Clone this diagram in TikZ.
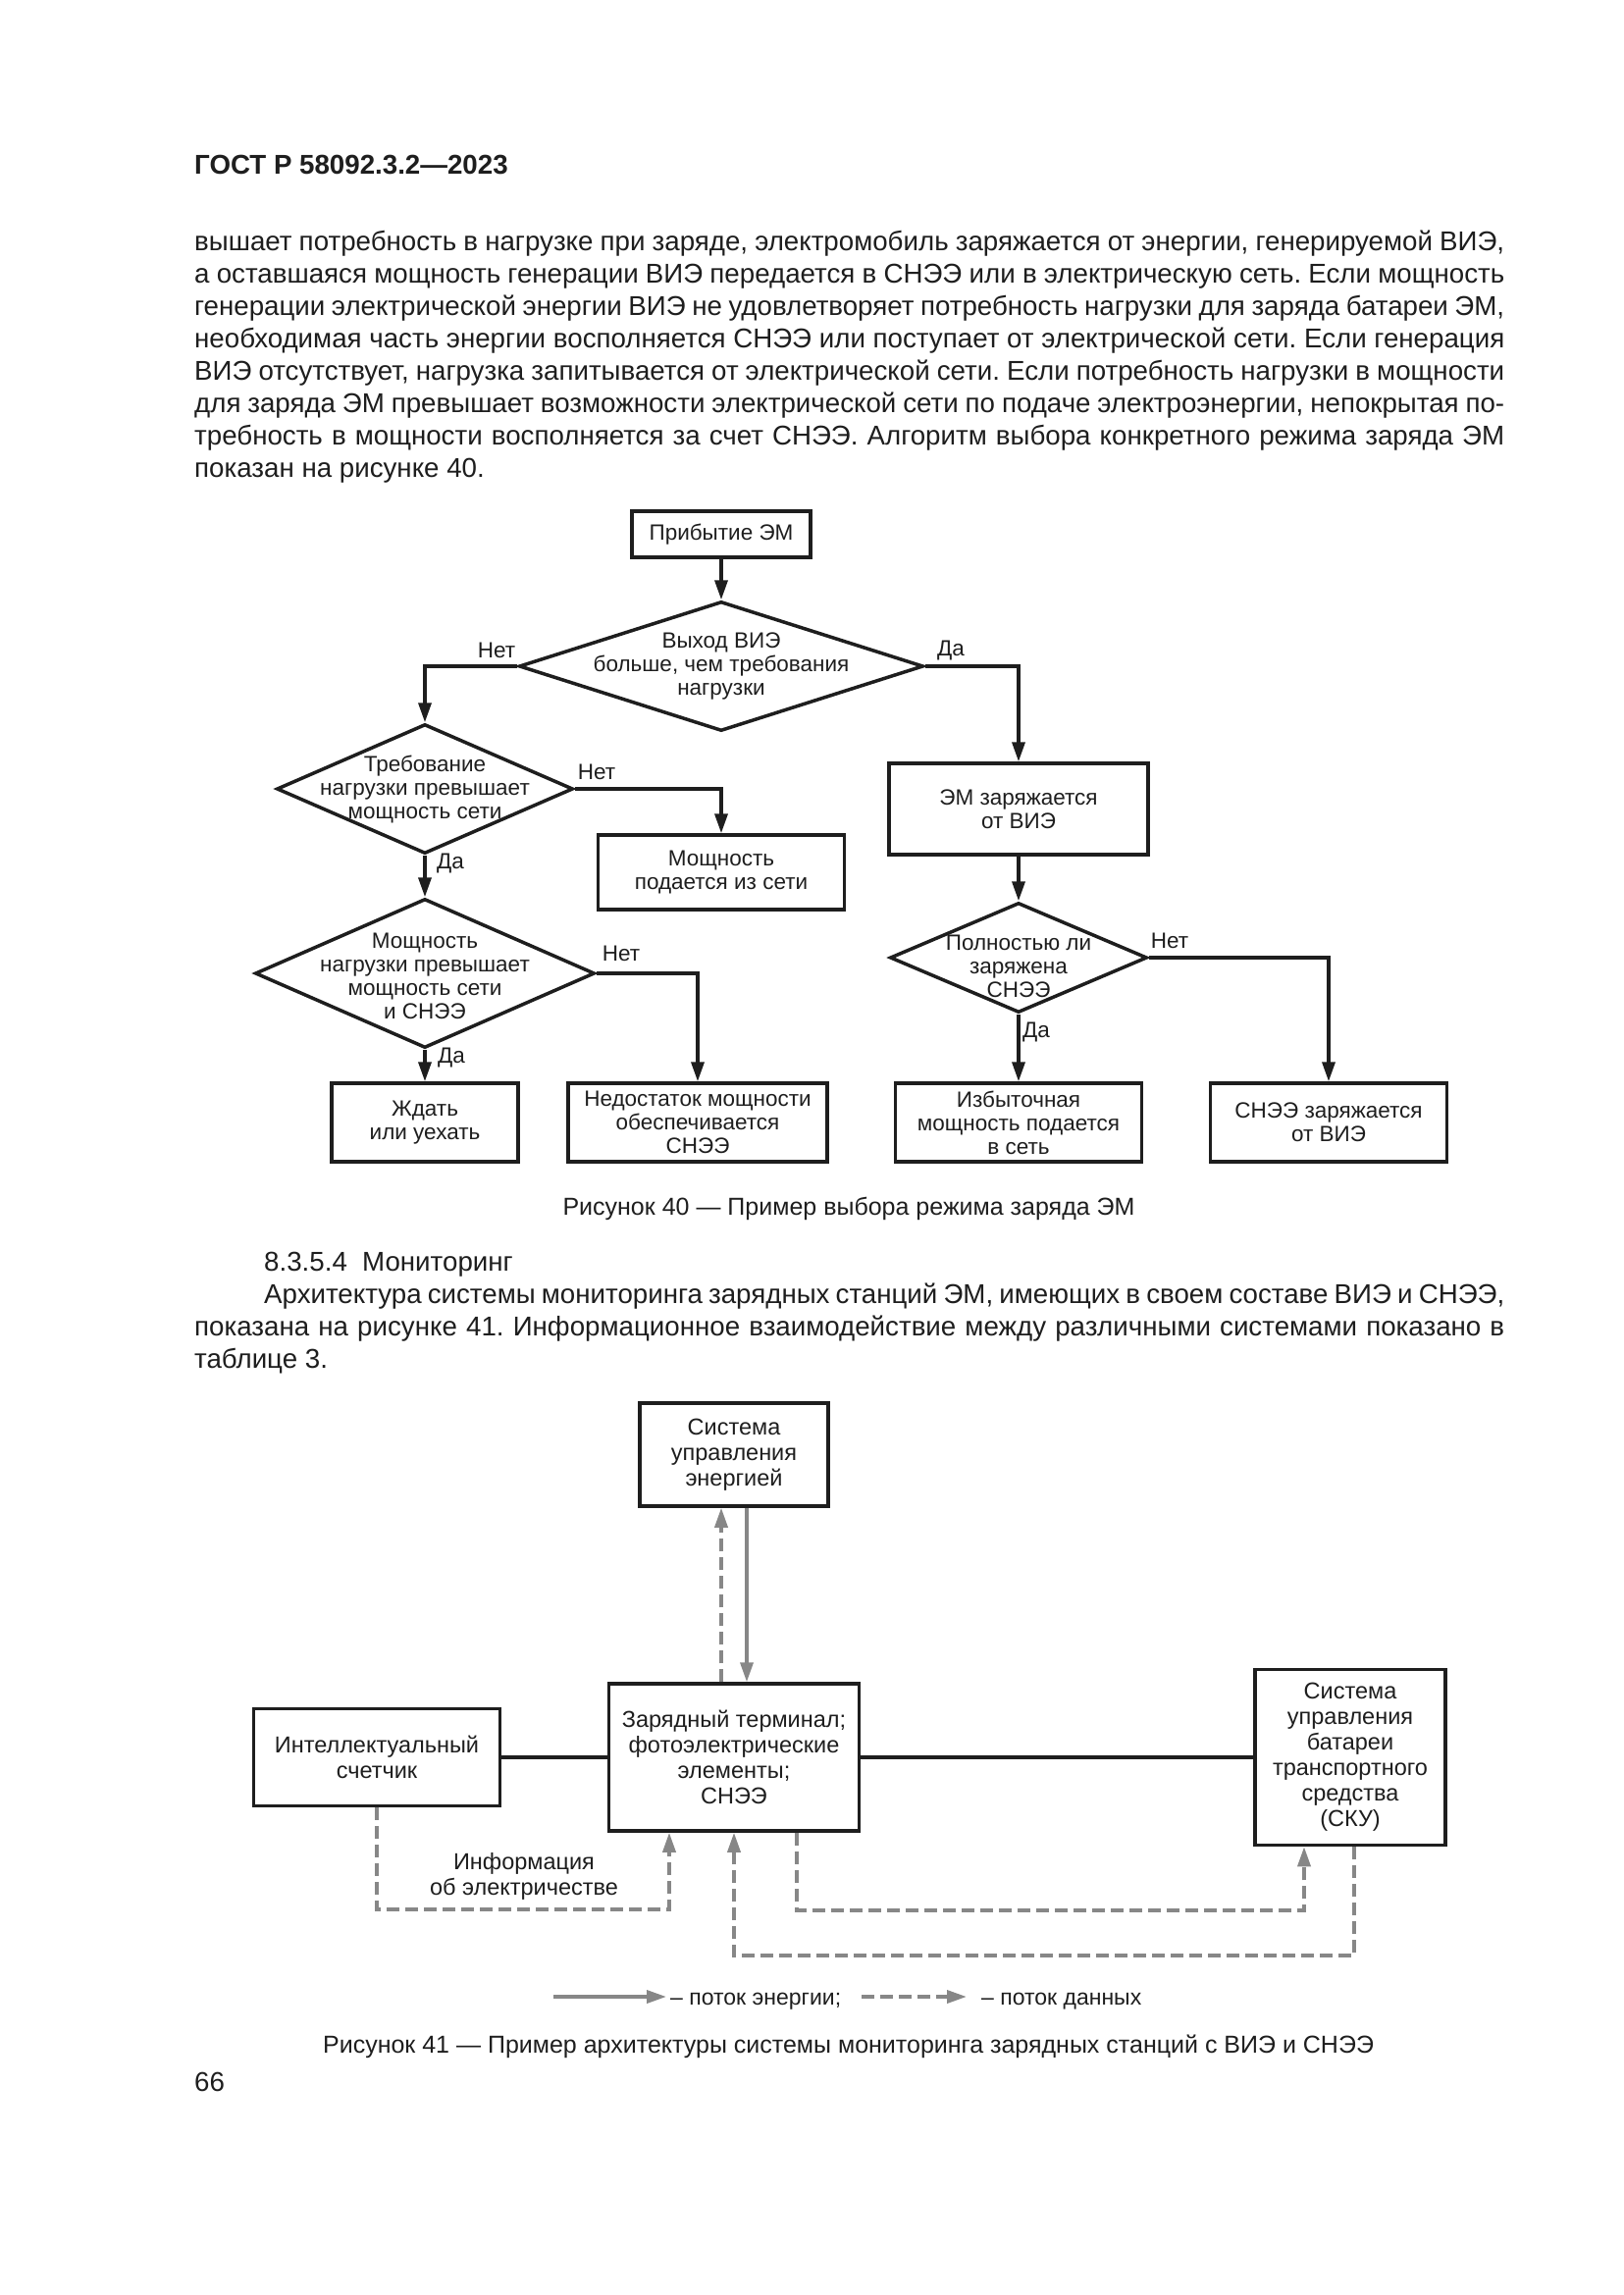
\documentclass[tikz,border=0pt]{standalone}
\usepackage{fontspec}
\setmainfont{Liberation Sans}
\usetikzlibrary{arrows.meta,shapes.geometric}
\definecolor{flowgray}{RGB}{135,135,135}
\definecolor{inkblack}{RGB}{30,30,30}
\newcommand{\bodyfont}{\fontsize{27.7}{33}\selectfont}
\newcommand{\figfont}{\fontsize{22.5}{24}\selectfont}
\newcommand{\figfontb}{\fontsize{23.5}{26}\selectfont}
\newcommand{\capfont}{\fontsize{25}{30}\selectfont}
\newcommand{\legfont}{\fontsize{23}{26}\selectfont}
\newcommand{\jl}[1]{\hbox to 1335pt{#1}}
\frenchspacing
\begin{document}
\begin{tikzpicture}[x=1pt,y=-1pt,
 every node/.style={inner sep=0pt, text=inkblack},
 txt/.style={anchor=base west, font=\bodyfont},
 box/.style={draw=inkblack, line width=3.5pt, align=center, font=\figfont},
 dia/.style={draw=inkblack, diamond, line width=3.5pt, inner sep=0pt},
 dlab/.style={font=\figfont, align=center},
 yn/.style={font=\figfont},
 flow/.style={draw=inkblack, line width=3.5pt, -{Triangle[length=20pt,width=13pt]}},
 box2/.style={draw=inkblack, line width=3.5pt, align=center, font=\figfontb},
 link/.style={draw=inkblack, line width=3.5pt},
 energy/.style={line width=3.5pt, draw=flowgray, -{Triangle[length=20pt,width=13pt]}},
 data/.style={line width=3.5pt, draw=flowgray, dash pattern=on 13pt off 6pt},
 dataarr/.style={data, -{Triangle[length=20pt,width=13pt]}}
]
\fill[white] (0,0) rectangle (1654,2339);
\useasboundingbox (0,0) rectangle (1654,2339);

% header
\node[anchor=base west, font=\bodyfont\bfseries] (hdr) at (198,177) {ГОСТ Р 58092.3.2—2023};

% body text
\node[txt] (p1) at (198,255) {\jl{вышает потребность в нагрузке при заряде, электромобиль заряжается от энергии, генерируемой ВИЭ,}};
\node[txt] (p2) at (198,288) {\jl{а оставшаяся мощность генерации ВИЭ передается в СНЭЭ или в электрическую сеть. Если мощность}};
\node[txt] (p3) at (198,321) {\jl{генерации электрической энергии ВИЭ не удовлетворяет потребность нагрузки для заряда батареи ЭМ,}};
\node[txt] (p4) at (198,354) {\jl{необходимая часть энергии восполняется СНЭЭ или поступает от электрической сети. Если генерация}};
\node[txt] (p5) at (198,387) {\jl{ВИЭ отсутствует, нагрузка запитывается от электрической сети. Если потребность нагрузки в мощности}};
\node[txt] (p6) at (198,420) {\jl{для заряда ЭМ превышает возможности электрической сети по подаче электроэнергии, непокрытая по-}};
\node[txt] (p7) at (198,453) {\jl{требность в мощности восполняется за счет СНЭЭ. Алгоритм выбора конкретного режима заряда ЭМ}};
\node[txt] (p8) at (198,486) {показан на рисунке 40.};

% figure 40
\node[box, minimum width=182pt, minimum height=47pt] (start) at (735,544.5) {Прибытие ЭМ};
\node[dia, minimum width=412pt, minimum height=132pt,
  label={[dlab]center:{Выход ВИЭ\\больше, чем требования\\нагрузки}}] (d1) at (735,679) {};
\node[dia, minimum width=302pt, minimum height=132pt,
  label={[dlab]center:{Требование\\нагрузки превышает\\мощность сети}}] (d2) at (433,804) {};
\node[box, minimum width=251pt, minimum height=76pt] (grid) at (735,889) {Мощность\\подается из сети};
\node[dia, minimum width=346pt, minimum height=152pt,
  label={[dlab,yshift=-3pt]center:{Мощность\\нагрузки превышает\\мощность сети\\и СНЭЭ}}] (d3) at (433,992) {};
\node[box, minimum width=190pt, minimum height=80pt] (wait) at (433,1144) {Ждать\\или уехать};
\node[box, minimum width=264pt, minimum height=80pt] (lack) at (711,1144) {Недостаток мощности\\обеспечивается\\СНЭЭ};
\node[box, minimum width=264pt, minimum height=93pt] (evch) at (1038,824.5) {ЭМ заряжается\\от ВИЭ};
\node[dia, minimum width=262pt, minimum height=112pt,
  label={[dlab,yshift=-9pt]center:{Полностью ли\\заряжена\\СНЭЭ}}] (d4) at (1038,976) {};
\node[box, minimum width=251pt, minimum height=80pt] (excess) at (1038,1144) {Избыточная\\мощность подается\\в сеть};
\node[box, minimum width=241pt, minimum height=80pt] (esscharge) at (1354,1144) {СНЭЭ заряжается\\от ВИЭ};

\node[yn] (n1) at (506,663) {Нет};
\node[yn] (y1) at (969,663) {Да};
\node[yn] (n2) at (608,787) {Нет};
\node[yn] (y2) at (459,880) {Да};
\node[yn] (n3) at (633,972) {Нет};
\node[yn] (y3) at (460,1078) {Да};
\node[yn] (n4) at (1192,959) {Нет};
\node[yn] (y4) at (1056,1052) {Да};

\draw[flow] (start) -- (d1);
\draw[flow] (d1.west) -| (d2.north);
\draw[flow] (d1.east) -| (evch.north);
\draw[flow] (d2.east) -| (grid.north);
\draw[flow] (d2) -- (d3);
\draw[flow] (d3) -- (wait);
\draw[flow] (d3.east) -| (lack.north);
\draw[flow] (evch) -- (d4);
\draw[flow] (d4) -- (excess);
\draw[flow] (d4.east) -| (esscharge.north);

\node[anchor=base, font=\capfont] (cap40) at (865,1238) {Рисунок 40 — Пример выбора режима заряда ЭМ};

% section text
\node[txt] (s0) at (269,1295) {8.3.5.4\hspace{0.55em}Мониторинг};
\node[txt] (s1) at (269,1328) {\hbox to 1264pt{Архитектура системы мониторинга зарядных станций ЭМ, имеющих в своем составе ВИЭ и СНЭЭ,}};
\node[txt] (s2) at (198,1361) {\jl{показана на рисунке 41. Информационное взаимодействие между различными системами показано в}};
\node[txt] (s3) at (198,1394) {таблице 3.};

% figure 41
\node[box2, minimum width=192pt, minimum height=105pt] (ems) at (748,1482.5) {Система\\управления\\энергией};
\node[box2, minimum width=255pt, minimum height=150pt] (term) at (748,1791) {Зарядный терминал;\\фотоэлектрические\\элементы;\\СНЭЭ};
\node[box2, minimum width=251pt, minimum height=99pt] (meter) at (384,1791) {Интеллектуальный\\счетчик};
\node[box2, minimum width=194pt, minimum height=179pt] (bms) at (1376,1791) {Система\\управления\\батареи\\транспортного\\средства\\(СКУ)};

\draw[link] (meter.east) -- (term.west);
\draw[link] (term.east) -- (bms.west);

\draw[dataarr] ([xshift=-13pt]term.north) -- ([xshift=-13pt]ems.south);
\draw[energy] ([xshift=13pt]ems.south) -- ([xshift=13pt]term.north);

\coordinate (m1) at (384,1946);
\coordinate (m2) at (682,1946);
\draw[dataarr] (meter.south) -- (m1) -- (m2) -- (m2 |- term.south);
\node[font=\figfontb, align=center] (info) at (534,1912) {Информация\\об электричестве};

\coordinate (t1) at (812,1947);
\coordinate (t2) at (1329,1947);
\draw[dataarr] (t1 |- term.south) -- (t1) -- (t2) -- (t2 |- bms.south);

\coordinate (b1) at (1380,1993);
\coordinate (b2) at (748,1993);
\draw[dataarr] (b1 |- bms.south) -- (b1) -- (b2) -- (term.south);

% legend
\coordinate (le1) at (564,2035);
\coordinate (le2) at (679,2035);
\draw[energy] (le1) -- (le2);
\node[anchor=base west, font=\legfont] (lt1) at (683,2043) {– поток энергии;};
\coordinate (ld1) at (878,2035);
\coordinate (ld2) at (985,2035);
\draw[dataarr] (ld1) -- (ld2);
\node[anchor=base west, font=\legfont] (lt2) at (1000,2043) {– поток данных};

\node[anchor=base, font=\capfont] (cap41) at (864.5,2092) {Рисунок 41 — Пример архитектуры системы мониторинга зарядных станций с ВИЭ и СНЭЭ};

\node[anchor=base west, font=\bodyfont] (pg) at (198,2131) {66};
\end{tikzpicture}
\end{document}
